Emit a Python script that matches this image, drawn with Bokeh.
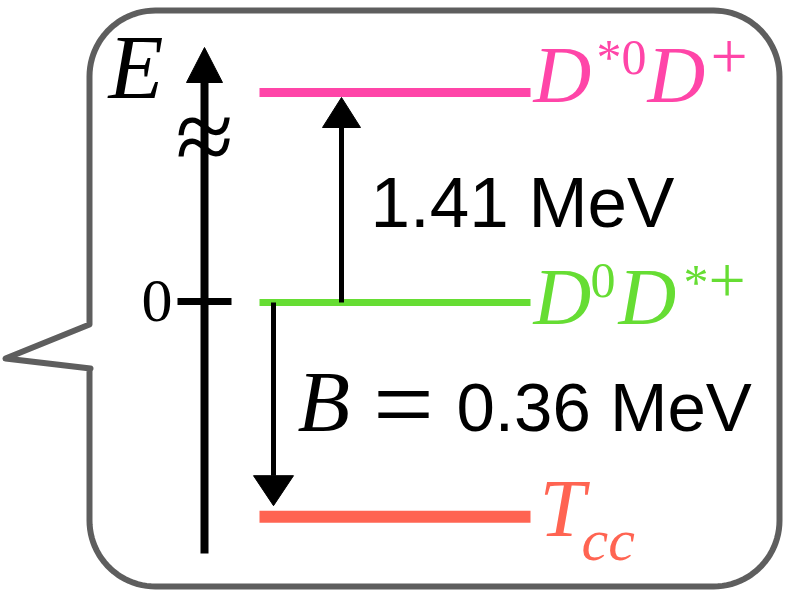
import numpy as np
from bokeh.plotting import figure
from bokeh.models import Range1d
from bokeh.core.properties import value
from bokeh.embed import file_html
from bokeh.resources import INLINE

# ---- data (schematic energy-level diagram) ----
level_names = ["D*0 D+", "D0 D*+", "Tcc"]
level_energy_mev = [1.41, 0.0, -0.36]        # physical energies
level_y = [1.0, 0.0, -1.02]                  # schematic position on broken axis
level_colors = ["#FF45A8", "#66DD33", "#FF6452"]
gap_labels = ["1.41 MeV", "0.36 MeV"]
tick_labels = ["0"]

# ---- layout helpers (page pixels -> data) ----
W, H = 787, 597
Y0, S = 302.0, 210.0
def Y(py):
    return (Y0 - py) / S

p = figure(width=W, height=H, x_range=Range1d(0, W), y_range=Range1d(Y(H), Y(0)),
           output_backend="svg", toolbar_location=None, x_axis_type=None, y_axis_type=None,
           min_border=0, background_fill_color="white", border_fill_color="white")
p.grid.visible = False
p.outline_line_color = None

SERIF = value("Liberation Serif")
SANS = value("Liberation Sans")
K = 0.37  # baseline calibration (fraction of font size)

# ---- speech bubble outline ----
def arc(cx, cy, r, a0, a1, n=24):
    t = np.linspace(np.radians(a0), np.radians(a1), n)
    return cx + r * np.cos(t), cy - r * np.sin(t)

L, R, T, B, rad = 89, 779, 10, 586, 66
xs, ys = [], []
ax, ay = arc(L + rad, T + rad, rad, 180, 90); xs += list(ax); ys += list(ay)
ax, ay = arc(R - rad, T + rad, rad, 90, 0); xs += list(ax); ys += list(ay)
ax, ay = arc(R - rad, B - rad, rad, 0, -90); xs += list(ax); ys += list(ay)
ax, ay = arc(L + rad, B - rad, rad, -90, -180); xs += list(ax); ys += list(ay)
xs += [L, L + 1, 5, L, L]
ys += [368, 368, 358, 324, T + rad]
p.line(xs, [Y(v) for v in ys], line_color="#5E5E5E", line_width=6, line_join="round")

# ---- text helper ----
def txt(x, py, s, color, size, italic=False, font=SERIF, align="left"):
    p.text(x=[x], y=[Y(py - K * size)], text=[s], text_font=font,
           text_font_style="italic" if italic else "normal",
           text_font_size=f"{size}px", text_align=align, text_baseline="alphabetic",
           text_color=color)

# ---- energy axis with arrow ----
axis_x = 204
p.line([axis_x, axis_x], [Y(553), Y(80)], line_color="black", line_width=8)
p.patch([axis_x - 18, axis_x + 18, axis_x], [Y(82), Y(82), Y(47)], color="black")
p.line([177, 231], [Y(301), Y(301)], line_color="black", line_width=7)
txt(172, 323, tick_labels[0], "black", 62, align="right")
txt(axis_x, 175, "\u2248", "black", 106, align="center")
txt(108, 100, "E", "black", 90, italic=True)

# ---- levels ----
x0, x1 = 259, 530
widths = [9, 7, 12]
for yv, c, w in zip(level_y, level_colors, widths):
    p.line([x0, x1], [yv, yv], line_color=c, line_width=w)

# ---- arrows between levels ----
def arrow(x, y_from, y_to, head_len_px, half_w):
    sgn = 1 if y_to > y_from else -1
    tip = y_to - sgn * (5 / S)
    base = tip - sgn * head_len_px / S
    p.line([x, x], [y_from, base], line_color="black", line_width=5)
    p.patch([x - half_w, x + half_w, x], [base, base, tip], color="black")

arrow(341, level_y[1], level_y[0], 30, 19)
arrow(273, level_y[1], level_y[2] + 6 / S, 30, 20)

# ---- level labels ----
pink, green, red = level_colors
txt(533, 104, "D", pink, 80, italic=True)
txt(596, 75, "*0", pink, 50)
txt(647, 104, "D", pink, 80, italic=True)
txt(710, 80, "+", pink, 66)

txt(533, 326, "D", green, 80, italic=True)
txt(590, 298, "0", green, 50)
txt(618, 326, "D", green, 80, italic=True)
txt(683, 300, "*", green, 50)
txt(708, 304, "+", green, 66)

txt(539, 538, "T", red, 82, italic=True)
txt(581, 562, "cc", red, 60, italic=True)

# ---- gap annotations ----
txt(370, 228, gap_labels[0], "black", 71, font=SANS)
txt(297, 433, "B", "black", 86, italic=True)
txt(403, 443, "=", "black", 108, align="center")
txt(456, 433, gap_labels[1], "black", 69, font=SANS)

open("out.html", "w").write(file_html(p, INLINE))
